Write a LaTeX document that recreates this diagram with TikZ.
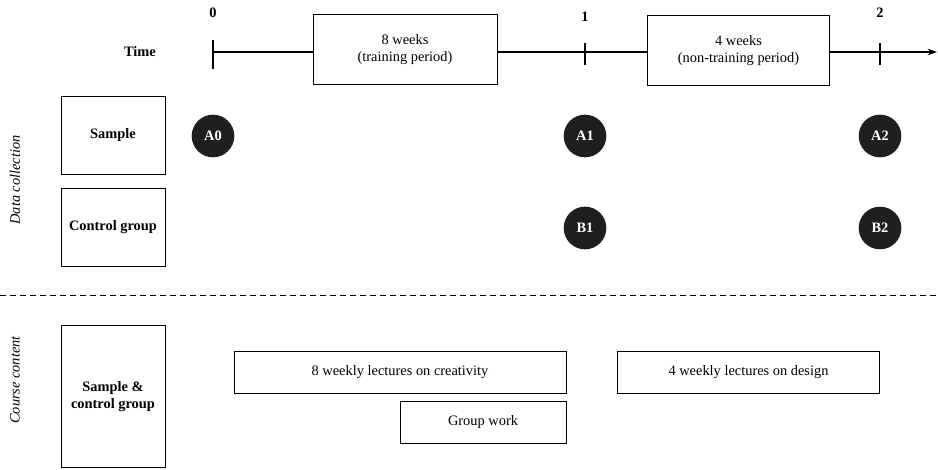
\documentclass[tikz,border=0pt]{standalone}
\usepackage{fontspec}
\setmainfont{Liberation Serif}
\usetikzlibrary{arrows.meta, positioning}

\begin{document}
\begin{tikzpicture}[x=0.75pt, y=-0.75pt, font=\fontsize{10.8}{13}\selectfont,
  box/.style={draw, line width=0.6pt, align=center, inner sep=0pt},
  grp/.style={box, minimum width=78pt, font=\fontsize{10.8}{13}\selectfont\bfseries},
  dot/.style={circle, fill=black!88, text=white, font=\fontsize{10.8}{13}\selectfont\bfseries, minimum size=32pt, inner sep=0pt},
  tick/.style={line width=0.8pt}]
\useasboundingbox (0,0) rectangle (938,470);

% time axis
\node[font=\fontsize{10.8}{13}\selectfont\bfseries] (time) at (140,52) {Time};
\node[box, minimum width=138pt, minimum height=52pt] (train) at (405,49.5) {8 weeks\\(training period)};
\node[box, minimum width=137pt, minimum height=52pt] (rest) at (738.5,50.5) {4 weeks\\(non-training period)};
\coordinate (t0) at (213,52);
\coordinate (t1) at (585,52);
\coordinate (t2) at (880,52);
\coordinate (tend) at (937,52);
\draw[tick] (t0) -- (t0 -| train.west);
\draw[tick] (t0 -| train.east) -- (t0 -| rest.west);
\draw[tick, -{Stealth[length=7pt, width=5pt]}] (t0 -| rest.east) -- (tend);
\draw[tick] ([yshift=-13pt]t0) -- ([yshift=9pt]t0);
\draw[tick] ([yshift=-10pt]t1) -- ([yshift=7pt]t1);
\draw[tick] ([yshift=-10pt]t2) -- ([yshift=7pt]t2);
\node[font=\fontsize{10.8}{13}\selectfont\bfseries, above=22pt of t0] (l0) {0};
\node[font=\fontsize{10.8}{13}\selectfont\bfseries, above=19pt of t1] (l1) {1};
\node[font=\fontsize{10.8}{13}\selectfont\bfseries, above=22pt of t2] (l2) {2};

% data collection
\node[font=\fontsize{10.8}{13}\selectfont\itshape, rotate=90] (datalbl) at (15,180) {Data collection};
\node[grp, minimum height=59pt] (sample) at (113,135.5) {Sample};
\node[grp, minimum height=58.5pt] (control) at (113,227) {Control group};
\node[dot] (A0) at (213,136) {A0};
\node[dot] (A1) at (585,136) {A1};
\node[dot] (A2) at (880,136) {A2};
\node[dot] (B1) at (585,228) {B1};
\node[dot] (B2) at (880,228) {B2};

\draw[line width=0.6pt, dash pattern=on 4.5pt off 3pt] (0,295) -- (938,295);

% course content
\node[font=\fontsize{10.8}{13}\selectfont\itshape, rotate=90] (courselbl) at (15,380) {Course content};
\node[grp, minimum height=107pt] (both) at (113,396.5) {Sample \&\\control group};
\node[box, minimum width=249pt, minimum height=31.5pt] (creat) at (400,372) {8 weekly lectures on creativity};
\node[box, minimum width=124.5pt, minimum height=31.5pt] (gwork) at (483,422) {Group work};
\node[box, minimum width=197pt, minimum height=31.5pt] (design) at (748.5,372) {4 weekly lectures on design};
\end{tikzpicture}
\end{document}
